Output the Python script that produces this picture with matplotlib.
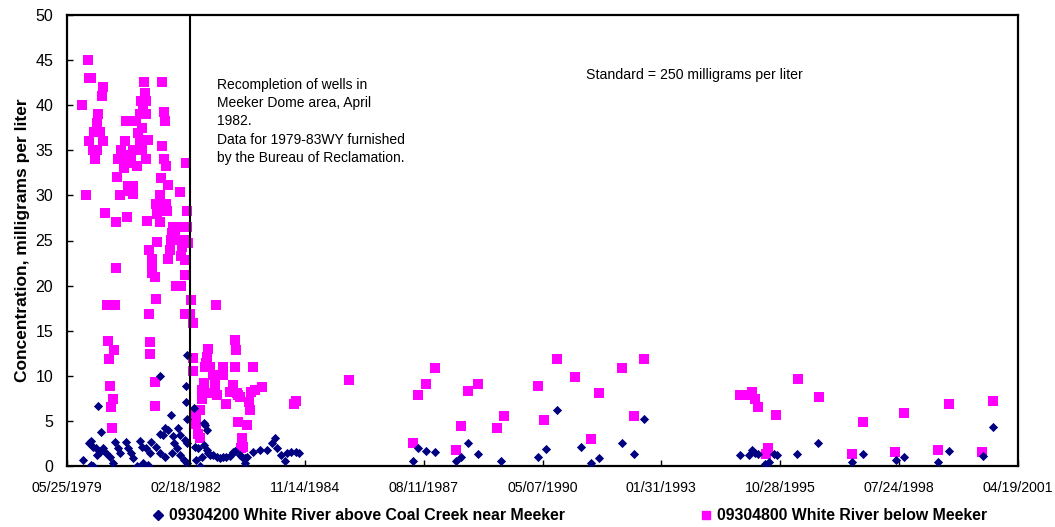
import matplotlib
matplotlib.use('Agg')
import matplotlib.pyplot as plt
import matplotlib.dates as mdates
from matplotlib.lines import Line2D
from datetime import datetime, timedelta

# sample dates as decimal years, concentrations in mg/L
coal_creek_yr = [1979.76, 1979.90, 1979.95, 1980.00, 1980.07, 1979.95, 1980.00, 1980.09, 1980.16, 1980.22,
                 1980.29, 1980.39, 1980.45, 1980.50, 1980.57, 1980.62, 1980.76, 1980.80, 1980.87, 1980.91,
                 1981.00, 1981.14, 1981.08, 1981.12, 1981.22, 1981.31, 1981.26, 1981.33, 1981.44, 1981.54,
                 1981.65, 1981.81, 1981.86, 1981.93, 1982.00, 1982.09, 1982.15, 1982.16, 1980.11, 1980.18,
                 1981.54, 1982.16, 1982.14, 1982.14, 1982.16, 1981.79, 1982.32, 1981.65, 1981.72, 1981.54,
                 1981.61, 1981.95, 1981.84, 1982.00, 1982.11, 1982.58, 1982.55, 1982.62, 1982.34, 1982.41,
                 1982.37, 1982.46, 1982.50, 1982.55, 1982.62, 1982.64, 1982.69, 1982.76, 1982.85, 1982.92,
                 1982.99, 1983.06, 1983.15, 1983.22, 1983.26, 1983.38, 1983.42, 1983.49, 1983.49, 1983.53,
                 1983.68, 1983.84, 1983.99, 1984.18, 1984.11, 1984.22, 1984.33, 1984.42, 1984.45, 1984.56,
                 1984.67, 1984.74,
                 1987.36, 1987.48, 1987.66, 1987.87, 1988.35, 1988.47, 1988.63, 1988.86, 1989.39, 1990.24,
                 1990.43, 1990.68, 1991.23, 1991.46, 1991.65, 1992.17, 1992.45, 1992.68, 1994.89, 1995.10,
                 1995.17, 1995.24, 1995.31, 1995.46, 1995.56, 1995.68, 1995.74, 1996.20, 1996.69, 1997.47,
                 1997.72, 1998.48, 1998.66, 1999.45, 1999.71, 2000.49, 2000.72]
coal_creek_val = [0.7, 2.5, 2.8, 2.1, 2.0, 0.1, 0.0, 1.2, 1.6, 2.0,
                  1.4, 1.0, 0.3, 2.7, 2.0, 1.4, 2.7, 2.0, 1.4, 0.85,
                  0.05, 0.3, 2.8, 2.1, 2.0, 1.4, 0.1, 2.7, 2.1, 1.4,
                  1.0, 1.4, 2.5, 2.0, 1.2, 0.7, 2.5, 0.3, 6.6, 3.8,
                  10.0, 12.3, 8.9, 7.1, 5.2, 5.7, 6.4, 4.2, 4.0, 3.6,
                  3.4, 4.2, 3.3, 3.4, 2.9, 4.5, 4.8, 4.0, 2.1, 2.0,
                  0.7, 0.0, 1.0, 2.3, 1.8, 1.4, 1.2, 1.2, 1.0, 0.85,
                  1.0, 1.0, 1.1, 1.6, 1.7, 1.2, 1.0, 0.85, 0.3, 1.0,
                  1.6, 1.8, 1.8, 3.1, 2.5, 2.0, 1.2, 0.6, 1.4, 1.6,
                  1.6, 1.4,
                  0.6, 2.0, 1.7, 1.5, 0.5, 1.0, 2.5, 1.3, 0.6, 1.0,
                  1.9, 6.2, 2.1, 0.3, 0.9, 2.6, 1.3, 5.2, 1.2, 1.2,
                  1.75, 1.45, 1.3, 0.25, 0.45, 1.3, 1.2, 1.3, 2.6, 0.45,
                  1.3, 0.7, 1.0, 0.45, 1.7, 1.15, 4.3]

below_yr = [1979.74, 1979.83, 1979.88, 1979.90, 1979.94, 1980.20, 1980.22, 1980.11, 1980.09, 1980.02,
            1980.16, 1979.90, 1980.22, 1980.00, 1980.09, 1980.04, 1980.27, 1980.52, 1980.52, 1980.32,
            1980.50, 1980.34, 1980.48, 1980.37, 1980.39, 1980.45, 1980.41, 1980.43, 1980.55, 1980.62,
            1980.75, 1980.98, 1980.73, 1980.64, 1980.57, 1980.66, 1980.71, 1980.75, 1980.87, 1981.01,
            1981.22, 1980.92, 1981.13, 1980.87, 1981.03, 1980.80, 1980.92, 1980.92, 1980.85, 1980.78,
            1981.17, 1981.58, 1981.19, 1981.10, 1981.21, 1981.15, 1981.08, 1981.22, 1981.63, 1981.65,
            1981.12, 1981.03, 1981.08, 1981.26, 1981.58, 1981.63, 1981.67, 1982.14, 1981.56, 1981.72,
            1982.00, 1981.54, 1981.44, 1981.67, 1981.47, 1981.70, 1982.16, 1981.24, 1981.54, 1981.84,
            1981.95, 1982.07, 1982.16, 1981.81, 1981.88, 1981.79, 1981.91, 1982.11, 1981.47, 1981.28,
            1981.77, 1982.04, 1982.18, 1981.72, 1982.02, 1982.11, 1981.35, 1981.35, 1981.35, 1981.42,
            1981.91, 1982.02, 1982.11, 1981.44, 1982.25, 1981.28, 1982.11, 1982.23, 1982.30, 1981.31,
            1981.31, 1981.42, 1981.42,
            1982.82, 1983.26, 1983.29, 1982.64, 1982.62, 1982.30, 1982.60, 1982.58, 1982.30, 1982.69,
            1982.99, 1983.26, 1983.68, 1982.76, 1982.99, 1982.55, 1982.80, 1983.22, 1982.50, 1982.73,
            1983.15, 1983.31, 1983.63, 1983.72, 1983.88, 1983.33, 1982.85, 1982.50, 1983.06, 1983.38,
            1983.59, 1983.61, 1982.46, 1982.37, 1982.37, 1983.33, 1983.54, 1982.41, 1982.46, 1983.42,
            1983.45, 1983.40, 1984.62, 1984.67,
            1985.89, 1987.36, 1987.48, 1987.66, 1987.87, 1988.35, 1988.47, 1988.63, 1988.86, 1989.30,
            1989.46, 1990.24, 1990.38, 1990.68, 1991.09, 1991.46, 1991.65, 1992.17, 1992.45, 1992.68,
            1994.89, 1995.10, 1995.17, 1995.24, 1995.31, 1995.73, 1995.53, 1995.49, 1996.22, 1996.71,
            1997.47, 1997.72, 1998.46, 1998.66, 1999.45, 1999.71, 2000.46, 2000.72]
below_val = [40.0, 30.0, 45.0, 43.0, 43.0, 41.0, 42.0, 39.0, 38.0, 37.0,
             37.0, 36.0, 36.0, 35.0, 35.0, 34.0, 28.0, 27.0, 21.9, 17.9,
             17.9, 13.9, 12.9, 11.9, 8.9, 7.4, 6.5, 4.2, 32.0, 30.0,
             38.3, 38.3, 36.0, 35.0, 34.0, 34.0, 33.0, 33.7, 33.6, 33.3,
             34.0, 35.0, 35.0, 34.5, 35.0, 31.0, 31.0, 30.2, 30.5, 27.6,
             42.6, 42.6, 41.3, 40.5, 40.5, 39.7, 39.0, 39.0, 39.2, 38.2,
             37.5, 36.9, 36.1, 36.1, 35.5, 34.0, 33.3, 33.6, 31.9, 31.1,
             30.4, 30.0, 29.0, 29.0, 27.9, 28.3, 28.3, 27.2, 27.0, 26.5,
             26.5, 26.5, 26.5, 25.8, 25.8, 25.1, 25.1, 25.1, 24.8, 24.0,
             24.0, 24.3, 24.7, 23.0, 23.3, 22.8, 23.0, 22.4, 21.4, 21.0,
             20.0, 20.0, 21.2, 18.5, 18.4, 16.9, 16.9, 16.9, 15.9, 13.7,
             12.4, 9.3, 6.6,
             17.9, 14.0, 12.9, 13.0, 12.1, 12.0, 11.4, 11.0, 10.5, 11.0,
             11.0, 11.0, 11.0, 10.1, 10.1, 9.2, 9.0, 9.0, 8.4, 8.1,
             8.2, 8.1, 8.2, 8.4, 8.8, 7.9, 7.9, 7.4, 6.9, 7.6,
             7.1, 6.2, 6.2, 5.7, 4.7, 4.9, 4.5, 3.6, 3.1, 3.1,
             2.1, 2.0, 6.9, 7.2,
             9.5, 2.6, 7.9, 9.1, 10.9, 1.8, 4.4, 8.3, 9.1, 4.2,
             5.5, 8.9, 5.1, 11.9, 9.9, 3.0, 8.1, 10.9, 5.5, 11.9,
             7.9, 7.9, 8.2, 7.4, 6.5, 5.6, 2.0, 1.3, 9.6, 7.7,
             1.3, 4.9, 1.6, 5.9, 1.8, 6.9, 1.6, 7.2]

label_coal = '09304200 White River above Coal Creek near Meeker'
label_below = '09304800 White River below Meeker'
note_text = ('Recompletion of wells in\nMeeker Dome area, April\n1982.\n'
             'Data for 1979-83WY furnished\nby the Bureau of Reclamation.')
standard_text = 'Standard = 250 milligrams per liter'
recompletion_date = datetime(1982, 3, 25)
x_start = datetime(1979, 5, 25)
x_end = datetime(2001, 4, 19)


def yr2date(y):
    year = int(y)
    a = datetime(year, 1, 1)
    b = datetime(year + 1, 1, 1)
    return a + (b - a) * (y - year)


plt.rcParams['font.family'] = ['Liberation Sans', 'DejaVu Sans']

fig = plt.figure(figsize=(10.55, 5.27), dpi=100)
ax = fig.add_axes([67 / 1055, 61 / 527, 951 / 1055, 451 / 527])

ax.scatter([yr2date(v) for v in below_yr], below_val, marker='s', s=42,
           color='#FF00FF', linewidths=0, zorder=3)
ax.scatter([yr2date(v) for v in coal_creek_yr], coal_creek_val, marker='D', s=22,
           color='#000080', linewidths=0, zorder=4)

ax.axvline(recompletion_date, color='black', lw=1.5, zorder=5)

ax.set_xlim(x_start, x_end)
ax.set_ylim(0, 50)
ax.set_yticks(range(0, 51, 5))
ax.set_xticks([x_start + timedelta(days=1000 * i) for i in range(9)])
ax.xaxis.set_major_formatter(mdates.DateFormatter('%m/%d/%Y'))
ax.tick_params(direction='in', length=4, width=1)
ax.tick_params(axis='x', pad=11, labelsize=10.2)
ax.tick_params(axis='y', pad=10, labelsize=11.5)
for sp in ax.spines.values():
    sp.set_linewidth(1.6)

ax.set_ylabel('Concentration, milligrams per liter', fontsize=12.5, fontweight='bold', labelpad=4)

fig.text(217 / 1055, 1 - 78 / 527, note_text, fontsize=10, linespacing=1.38,
         va='top', ha='left')
fig.text(586 / 1055, 1 - 75 / 527, standard_text, fontsize=10.2, ha='left', va='center')

h1 = Line2D([], [], marker='D', color='#000080', ls='none', markersize=5)
h2 = Line2D([], [], marker='s', color='#FF00FF', ls='none', markersize=6)
leg_font = {'weight': 'bold', 'size': 11.4}
fig.legend([h1], [label_coal], loc='center left', bbox_to_anchor=(152 / 1055, 11 / 527),
           frameon=False, prop=leg_font, handlelength=0.8, handletextpad=0.3,
           borderpad=0, borderaxespad=0)
fig.legend([h2], [label_below], loc='center left', bbox_to_anchor=(700 / 1055, 11 / 527),
           frameon=False, prop=leg_font, handlelength=0.8, handletextpad=0.3,
           borderpad=0, borderaxespad=0)

fig.savefig('out.png', dpi=100)
